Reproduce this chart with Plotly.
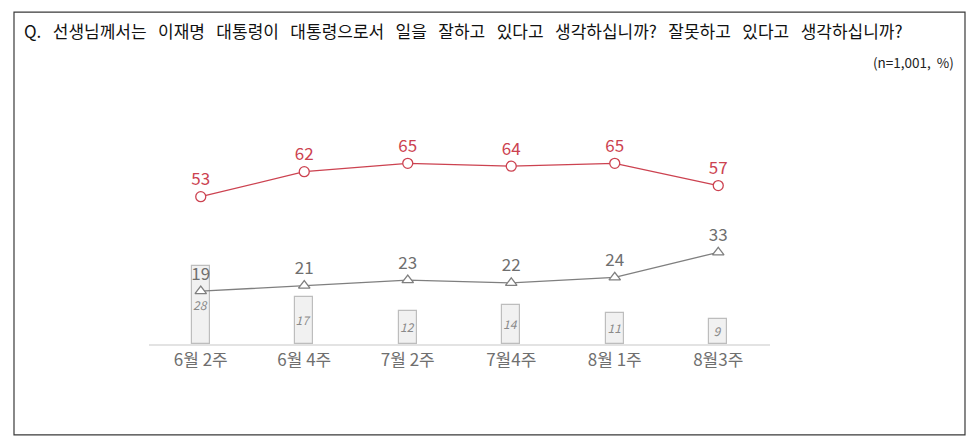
import plotly.graph_objects as go

# survey waves
weeks = ["6월 2주", "6월 4주", "7월 2주", "7월4주", "8월 1주", "8월3주"]

# 잘하고 있다 / 잘못하고 있다 / 모름
positive = [53, 62, 65, 64, 65, 57]
negative = [19, 21, 23, 22, 24, 33]
unknown = [28, 17, 12, 14, 11, 9]

question = ("Q. 선생님께서는 이재명 대통령이 대통령으로서 일을 잘하고 있다고 "
            "생각하십니까? 잘못하고 있다고 생각하십니까?")

FONT = "Noto Sans CJK KR"
RED = "#cc4250"
GRAY = "#7f7f7f"

fig = go.Figure()

# 모름 - small grey boxes
fig.add_bar(x=weeks, y=unknown,
            width=0.17,
            marker=dict(color="#f1f1f1",
                        line=dict(color="#bdbdbd", width=1.2)),
            text=unknown,
            textposition="inside",
            insidetextanchor="middle",
            textangle=0,
            constraintext="none",
            textfont=dict(family=FONT, size=12, color="#8a8a8a", style="italic"),
            showlegend=False,
            hoverinfo="skip")

fig.add_scatter(x=weeks, y=negative,
                mode="lines+markers+text",
                line=dict(color=GRAY, width=1.3),
                marker=dict(symbol="triangle-up", size=10, color="white",
                            line=dict(color=GRAY, width=1.3)),
                text=negative,
                textposition="top center",
                textfont=dict(family=FONT, size=17, color="#6f6f6f"),
                showlegend=False)

fig.add_scatter(x=weeks, y=positive,
                mode="lines+markers+text",
                line=dict(color=RED, width=1.3),
                marker=dict(symbol="circle", size=10, color="white",
                            line=dict(color=RED, width=1.3)),
                text=positive,
                textposition="top center",
                textfont=dict(family=FONT, size=17, color=RED),
                showlegend=False)

# outer frame round the whole card
fig.add_shape(type="rect", xref="paper", yref="paper",
              x0=-0.2174, x1=1.314, y0=-0.425, y1=1.551,
              line=dict(color="#3a3a3a", width=1.2))

# the original uses wide word gaps
fig.add_annotation(xref="paper", yref="paper", x=-0.2045, y=1.467,
                   xanchor="left", yanchor="middle", showarrow=False,
                   text=question.replace(" ", "\u00a0\u00a0 "),
                   font=dict(family=FONT, size=17, color="#111111"))
fig.add_annotation(xref="paper", yref="paper", x=1.3, y=1.318,
                   xanchor="right", yanchor="middle", showarrow=False,
                   text="(n=1,001,\u00a0\u00a0%)",
                   font=dict(family=FONT, size=13.5, color="#222222"))

# the page sits 8px in from the window corner, so the figure is 8px smaller
fig.update_layout(width=970, height=431,
                  margin=dict(l=141, r=208, t=122, b=95),
                  paper_bgcolor="white",
                  plot_bgcolor="white",
                  bargap=0,
                  xaxis=dict(range=[-0.5, 5.5],
                             showgrid=False,
                             showline=True,
                             linecolor="#e3e3e3",
                             linewidth=2,
                             ticks="",
                             tickfont=dict(family=FONT, size=17, color="#6f6f6f")),
                  yaxis=dict(range=[0, 77],
                             visible=False,
                             showgrid=False))

fig.write_html("out.html")
